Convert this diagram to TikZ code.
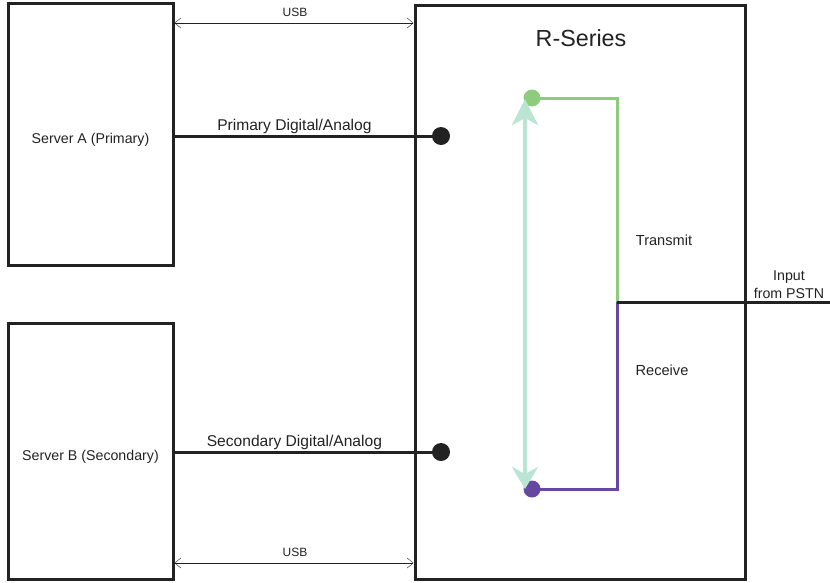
\documentclass[tikz,border=0pt]{standalone}
\usepackage{fontspec}
\setmainfont{Liberation Sans}
\usepackage{tikz}
\usetikzlibrary{arrows.meta, positioning}
\definecolor{txgreen}{RGB}{141,204,124}
\definecolor{rxpurple}{RGB}{103,72,160}
\definecolor{mint}{RGB}{186,228,212}
\definecolor{ink}{RGB}{34,34,34}
\tikzstyle{box} = [rectangle, 
draw=ink, 
line width=3pt]
\tikzstyle{lbl} = [text=ink, 
inner sep=1pt, 
font=\fontsize{14.6}{17}\selectfont]
\tikzstyle{boxlbl} = [lbl, 
yshift=-5.5pt, 
font=\fontsize{14.2}{17}\selectfont]
\tikzstyle{dot} = [circle, 
minimum size=18pt, 
inner sep=0pt]
\tikzstyle{link} = [line width=3pt, draw=ink]
\tikzstyle{usb} = [thin, draw=ink, {Straight Barb[length=6pt,width=10pt]}-{Straight Barb[length=6pt,width=10pt]}]

\begin{document}
\begin{tikzpicture}[x=1pt, y=-1pt]
\useasboundingbox (0,0) rectangle (830,582);

% servers and R-Series
\node (serverA) [box, minimum width=165pt, minimum height=261.5pt] at (90.5,134.25) {};
\node (serverB) [box, minimum width=165pt, minimum height=256pt] at (90.5,451) {};
\node (rseries) [box, minimum width=330pt, minimum height=573.5pt] at (580,292.25) {};
\node (nameA) [boxlbl] at (serverA.center) {Server A (Primary)};
\node (nameB) [boxlbl] at (serverB.center) {Server B (Secondary)};
\node (title) [lbl, font=\fontsize{23.3}{27}\selectfont] at (581,38) {R-Series};

% USB links
\node (usbtop) [lbl, font=\fontsize{12}{14}\selectfont] at (295,12) {USB};
\node (usbbot) [lbl, font=\fontsize{12}{14}\selectfont] at (295,552) {USB};
\draw [usb] (serverA.east |- 0,23) -- (rseries.west |- 0,23);
\draw [usb] (serverB.east |- 0,563) -- (rseries.west |- 0,563);

% digital/analog lines
\node (primdot) [dot, fill=ink] at (441,136) {};
\node (secdot) [dot, fill=ink] at (441,452) {};
\draw [link] (serverA.east |- primdot) -- node[lbl, above, pos=0.45, font=\fontsize{15.6}{18}\selectfont] {Primary Digital/Analog} (primdot.center);
\draw [link] (serverB.east |- secdot) -- node[lbl, above, pos=0.45, font=\fontsize{15.6}{18}\selectfont] {Secondary Digital/Analog} (secdot.center);

% transmit / receive
\coordinate (hub) at (617,302);
\coordinate (pstn) at (830,302);
\node (txdot) [dot, fill=txgreen, minimum size=17pt] at (532,98) {};
\node (rxdot) [dot, fill=rxpurple, minimum size=17pt] at (532,489) {};
\draw [line width=3pt, txgreen] (txdot.center) -| (hub);
\draw [line width=3pt, rxpurple] (rxdot.center) -| (hub);
\draw [line width=4.5pt, mint, {Stealth[length=26pt,width=26pt,inset=7pt]}-{Stealth[length=22pt,width=26pt,inset=7pt]}] (txdot.center -| 525,0) ++(0,1) -- (rxdot.center -| 525,0);
\draw [link] (hub) -- (pstn);
\node (tx) [lbl] at (664,240) {Transmit};
\node (rx) [lbl] at (662,370) {Receive};
\node (input) [lbl, align=center, font=\fontsize{14.2}{18}\selectfont] at (789,285) {Input\\from PSTN};

\end{tikzpicture}
\end{document}
